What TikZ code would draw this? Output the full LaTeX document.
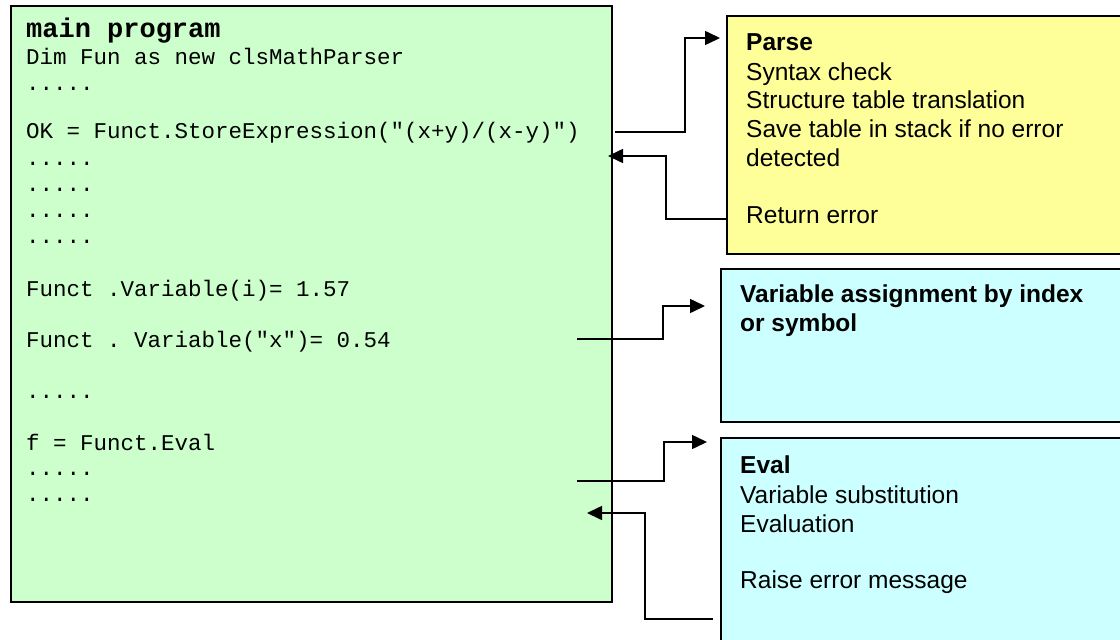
\documentclass[tikz,border=0pt]{standalone}
\usepackage{fontspec}
\setmainfont{Liberation Sans}
\setmonofont{Liberation Mono}
\usetikzlibrary{arrows.meta}
\definecolor{codegreen}{HTML}{CCFFCC}
\definecolor{parseyellow}{HTML}{FFFF99}
\definecolor{evalcyan}{HTML}{CCFFFF}
\begin{document}
\begin{tikzpicture}[x=1pt,y=-1pt,
  panel/.style={draw=black, line width=1.6pt, inner sep=0pt, anchor=north west},
  code/.style={anchor=base west, inner sep=0pt, font=\fontsize{22.5}{26}\selectfont\ttfamily},
  codehead/.style={anchor=base west, inner sep=0pt, font=\fontsize{27}{30}\selectfont\ttfamily\bfseries},
  note/.style={anchor=base west, inner sep=0pt, font=\fontsize{24.5}{29}\selectfont},
  notehead/.style={anchor=base west, inner sep=0pt, font=\fontsize{24.5}{29}\selectfont\bfseries},
  conn/.style={line width=1.6pt, -{Triangle[length=15pt,width=14pt]}},
]
\useasboundingbox (0,0) rectangle (1120,640);
\clip (0,0) rectangle (1120,640);

% boxes
\node[panel, fill=codegreen, minimum width=601pt, minimum height=596pt] (main) at (10,5) {};
\node[panel, fill=parseyellow, minimum width=420pt, minimum height=238pt] (parse) at (726,15) {};
\node[panel, fill=evalcyan, minimum width=420pt, minimum height=153pt] (assign) at (720,268) {};
\node[panel, fill=evalcyan, minimum width=420pt, minimum height=230pt] (eval) at (720,437) {};

% main program listing
\node[codehead] (c0) at (26,37) {main program};
\node[code] (c1) at (26,64) {Dim Fun as new clsMathParser};
\node[code] (c2) at (26,90) {.....};
\node[code] (c3) at (26,138) {OK = Funct.StoreExpression("(x+y)/(x-y)")};
\node[code] (c4) at (26,165) {.....};
\node[code] (c5) at (26,191) {.....};
\node[code] (c6) at (26,217) {.....};
\node[code] (c7) at (26,243) {.....};
\node[code] (c8) at (26,296) {Funct .Variable(i)= 1.57};
\node[code] (c9) at (26,347) {Funct . Variable("x")= 0.54};
\node[code] (c10) at (26,398) {.....};
\node[code] (c11) at (26,450) {f = Funct.Eval};
\node[code] (c12) at (26,475) {.....};
\node[code] (c13) at (26,501) {.....};

% parse box text
\node[notehead] (p0) at (746,50) {Parse};
\node[note] (p1) at (746,80) {Syntax check};
\node[note] (p2) at (746,108) {Structure table translation};
\node[note] (p3) at (746,137) {Save table in stack if no error};
\node[note] (p4) at (746,166) {detected};
\node[note] (p5) at (746,223) {Return error};

% assignment box text
\node[notehead] (a0) at (740,302) {Variable assignment by index};
\node[notehead] (a1) at (740,331) {or symbol};

% eval box text
\node[notehead] (e0) at (740,473) {Eval};
\node[note] (e1) at (740,503) {Variable substitution};
\node[note] (e2) at (740,532) {Evaluation};
\node[note] (e3) at (740,588) {Raise error message};

% connector end points
\coordinate (storeOut) at (615,132);
\coordinate (retIn) at (608,156);
\coordinate (assignOut) at (577,339);
\coordinate (evalOut) at (577,481);
\coordinate (raiseIn) at (587,513);

% connectors
\draw[conn] (storeOut) -- (685,132) -- (685,38) -- ([xshift=-6pt]parse.west |- 0,38);
\draw[conn] (parse.west |- 0,219) -- (666,219) -- (666,156) -- (retIn);
\draw[conn] (assignOut) -- (663,339) -- (663,306) -- ([xshift=-15pt]assign.west |- 0,306);
\draw[conn] (evalOut) -- (664,481) -- (664,442) -- ([xshift=-13pt]eval.west |- 0,442);
\draw[conn] ([xshift=-7pt]eval.west |- 0,619) -- (645,619) -- (645,513) -- (raiseIn);
\end{tikzpicture}
\end{document}
